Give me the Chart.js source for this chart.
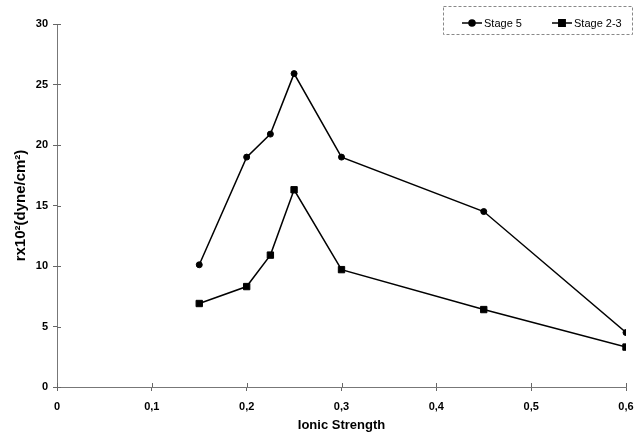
<!DOCTYPE html>
<html>
<head>
<meta charset="UTF-8">
<script src="https://cdn.jsdelivr.net/npm/chart.js"></script>
<style>
    body { margin: 0; background: #fff; }
    .wrap { position: relative; width: 634px; height: 437px; }
</style>
</head>
<body>
<div class="wrap"><canvas id="chart"></canvas></div>
<script>
    const ionicStrength = [0.15, 0.2, 0.225, 0.25, 0.3, 0.45, 0.6];
    const stage5 = [10.1, 19.0, 20.9, 25.9, 19.0, 14.5, 4.5];
    const stage23 = [6.9, 8.3, 10.9, 16.3, 9.7, 6.4, 3.3];
    const seriesLabels = ['Stage 5', 'Stage 2-3'];
    const xTitle = 'Ionic Strength';
    const yTitle = 'rx10²(dyne/cm²)';

    const font = 'Liberation Sans, Arial, sans-serif';

    function toPoints(xs, ys) {
        return xs.map((x, i) => ({ x: x, y: ys[i] }));
    }

    // legend drawn by hand: line + marker + label inside a dashed box
    const boxLegend = {
        id: 'boxLegend',
        afterDraw(chart) {
            const ctx = chart.ctx;
            ctx.save();
            ctx.strokeStyle = '#888';
            ctx.lineWidth = 1;
            ctx.setLineDash([3, 2]);
            ctx.strokeRect(443.5, 6.5, 189, 28);
            ctx.setLineDash([]);
            const starts = [462, 552];
            chart.data.datasets.forEach((ds, i) => {
                const x0 = starts[i], y = 23;
                ctx.strokeStyle = '#000';
                ctx.lineWidth = 1.5;
                ctx.beginPath();
                ctx.moveTo(x0, y);
                ctx.lineTo(x0 + 20, y);
                ctx.stroke();
                Chart.helpers.drawPoint(ctx, {
                    pointStyle: ds.pointStyle, radius: ds.pointRadius, borderWidth: 1
                }, x0 + 10, y);
                ctx.fillStyle = '#000';
                ctx.font = '11px ' + font;
                ctx.textBaseline = 'middle';
                ctx.fillText(ds.label, x0 + 22, y + 1);
            });
            ctx.restore();
        }
    };

    // tick marks crossing the axes
    const crossTicks = {
        id: 'crossTicks',
        afterDraw(chart) {
            const ctx = chart.ctx;
            const xs = chart.scales.x, ys = chart.scales.y;
            ctx.save();
            ctx.strokeStyle = '#666';
            ctx.lineWidth = 1;
            ys.ticks.forEach(t => {
                const py = Math.round(ys.getPixelForValue(t.value)) + 0.5;
                ctx.beginPath();
                ctx.moveTo(xs.left, py);
                ctx.lineTo(xs.left + 4, py);
                ctx.stroke();
            });
            xs.ticks.forEach(t => {
                const px = Math.round(xs.getPixelForValue(t.value)) + 0.5;
                ctx.beginPath();
                ctx.moveTo(px, ys.bottom);
                ctx.lineTo(px, ys.bottom - 4);
                ctx.stroke();
            });
            ctx.restore();
        }
    };

    new Chart(document.getElementById('chart'), {
        type: 'line',
        data: {
            datasets: [
                {
                    label: seriesLabels[0],
                    data: toPoints(ionicStrength, stage5),
                    borderColor: '#000',
                    backgroundColor: '#000',
                    borderWidth: 1.5,
                    pointStyle: 'circle',
                    pointRadius: 3,
                    pointBorderWidth: 1,
                    tension: 0
                },
                {
                    label: seriesLabels[1],
                    data: toPoints(ionicStrength, stage23),
                    borderColor: '#000',
                    backgroundColor: '#000',
                    borderWidth: 1.5,
                    pointStyle: 'rect',
                    pointRadius: 4.5,
                    pointBorderWidth: 1,
                    tension: 0
                }
            ]
        },
        options: {
            responsive: true,
            maintainAspectRatio: false,
            animation: false,
            layout: { padding: { top: 24, right: 2, left: 0, bottom: 0 } },
            plugins: {
                legend: { display: false },
                tooltip: { enabled: false }
            },
            scales: {
                x: {
                    type: 'linear',
                    min: 0,
                    max: 0.6,
                    afterFit(scale) {
                        scale.height = 50;
                        scale.paddingRight = 8;
                        scale.paddingLeft = 0;
                    },
                    ticks: {
                        stepSize: 0.1,
                        color: '#000',
                        padding: 9,
                        font: { family: font, size: 11, weight: 'bold' },
                        callback: v => String(Math.round(v * 10) / 10).replace('.', ',')
                    },
                    grid: { drawOnChartArea: false, tickLength: 4, color: '#666' },
                    border: { color: '#777', width: 1 },
                    title: {
                        display: true,
                        text: xTitle,
                        color: '#000',
                        padding: { top: 2 },
                        font: { family: font, size: 13, weight: 'bold' }
                    }
                },
                y: {
                    min: 0,
                    max: 30,
                    afterFit(scale) { scale.width = 57; },
                    ticks: {
                        stepSize: 5,
                        color: '#000',
                        padding: 5,
                        font: { family: font, size: 11, weight: 'bold' }
                    },
                    grid: { drawOnChartArea: false, tickLength: 4, color: '#666' },
                    border: { color: '#777', width: 1 },
                    title: {
                        display: true,
                        text: yTitle,
                        color: '#000',
                        padding: { top: 12 },
                        font: { family: font, size: 15, weight: 'bold' }
                    }
                }
            }
        },
        plugins: [boxLegend, crossTicks]
    });
</script>
</body>
</html>
